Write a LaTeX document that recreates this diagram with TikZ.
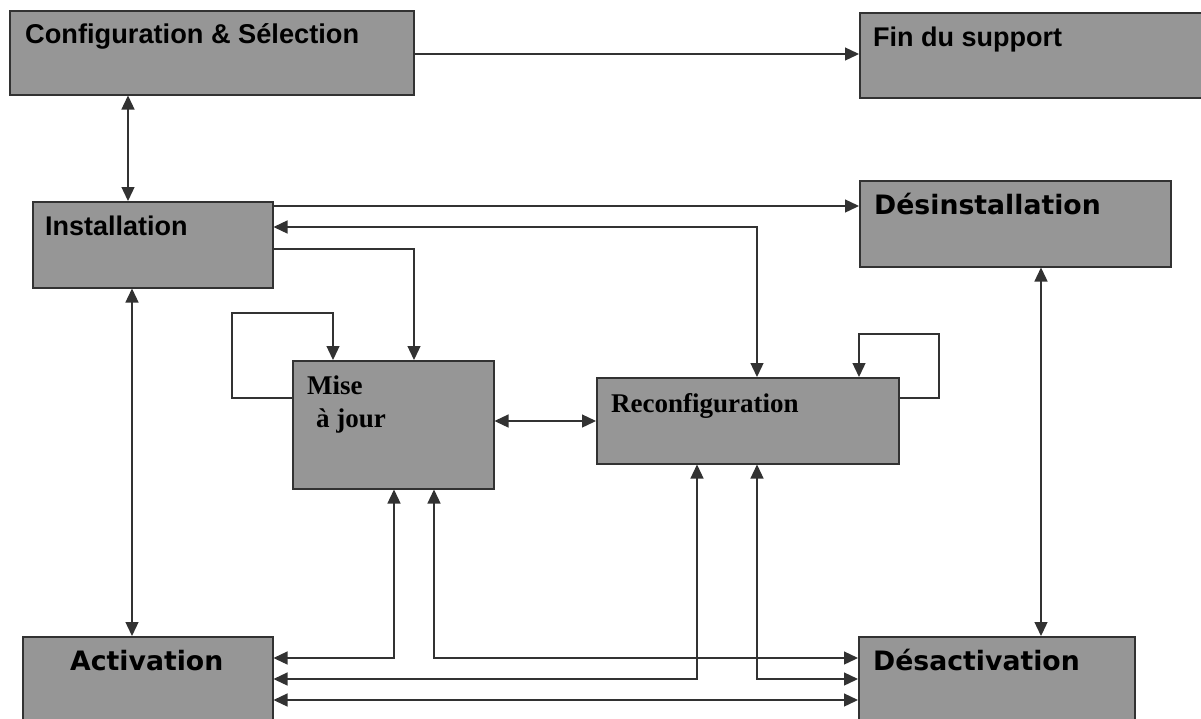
\documentclass[tikz,border=0pt]{standalone}
\usepackage{fontspec}
\usetikzlibrary{arrows.meta}
\newfontfamily\arialfont{Liberation Sans}
\newfontfamily\dejafont{DejaVu Sans}
\newfontfamily\timesfont{Liberation Serif}
\definecolor{boxgray}{RGB}{150,150,150}
\definecolor{edgegray}{RGB}{50,50,50}

\begin{document}
\begin{tikzpicture}[x=1pt,y=-1pt,
   box/.style={draw=edgegray,line width=1.5pt,fill=boxgray,inner sep=0pt,anchor=north west},
   lbl/.style={anchor=base west,inner sep=0pt,font=\fontsize{26}{30}\selectfont\bfseries},
   link/.style={draw=edgegray,line width=1.3pt},
   >={Triangle[length=14pt,width=13pt]}]
   \useasboundingbox (0,0) rectangle (1201,718);

   \node[box,minimum width=404,minimum height=84] (conf) at (9,10) {};
   \node[box,minimum width=346,minimum height=85] (fin) at (859,12) {};
   \node[box,minimum width=240,minimum height=86] (inst) at (32,201) {};
   \node[box,minimum width=311,minimum height=86] (desinst) at (859,180) {};
   \node[box,minimum width=201,minimum height=128] (maj) at (292,360) {};
   \node[box,minimum width=302,minimum height=86] (reconf) at (596,377) {};
   \node[box,minimum width=250,minimum height=104] (activ) at (22,636) {};
   \node[box,minimum width=276,minimum height=104] (desact) at (858,636) {};

   \node[lbl,font=\arialfont\fontsize{27.2}{30}\selectfont\bfseries] (conft) at (25,43) {Configuration \& Sélection};
   \node[lbl,font=\arialfont\fontsize{27}{30}\selectfont\bfseries] (fint) at (873,46) {Fin du support};
   \node[lbl,font=\arialfont\fontsize{27}{30}\selectfont\bfseries] (instt) at (45,235) {Installation};
   \node[lbl,font=\dejafont\fontsize{26.7}{30}\selectfont\bfseries] (desinstt) at (874,214) {Désinstallation};
   \node[lbl,font=\timesfont\fontsize{27}{30}\selectfont\bfseries] (majt) at (307,394) {Mise};
   \node[lbl,font=\timesfont\fontsize{27}{30}\selectfont\bfseries] (majtt) at (316,427) {à jour};
   \node[lbl,font=\timesfont\fontsize{27}{30}\selectfont\bfseries] (reconft) at (611,412) {Reconfiguration};
   \node[lbl,font=\dejafont\fontsize{26.7}{30}\selectfont\bfseries] (activt) at (70,670) {Activation};
   \node[lbl,font=\dejafont\fontsize{26.7}{30}\selectfont\bfseries] (desactt) at (873,670) {Désactivation};

   \draw[link,->] (conf.east |- 0,54) -- (fin.west |- 0,54);
   \draw[link,<->] (conf.south -| 128,0) -- (inst.north -| 128,0);
   \draw[link,->] (inst.east |- 0,206) -- (desinst.west |- 0,206);
   \draw[link,<->] (inst.east |- 0,227) -| (reconf.north -| 757,0);
   \draw[link,->] (inst.east |- 0,249) -| (maj.north -| 414,0);
   \draw[link,->] (maj.west |- 0,398) -| (232,313) -| (maj.north -| 333,0);
   \draw[link,<->] (maj.east |- 0,421) -- (reconf.west |- 0,421);
   \draw[link,->] (reconf.east |- 0,398) -| (939,334) -| (reconf.north -| 859,0);
   \draw[link,<->] (desinst.south -| 1041,0) -- (desact.north -| 1041,0);
   \draw[link,<->] (inst.south -| 132,0) -- (activ.north -| 132,0);

   \draw[link,<->] (activ.east |- 0,658) -| (maj.south -| 394,0);
   \draw[link,<->] (maj.south -| 434,0) |- (desact.west |- 0,658);
   \draw[link,<->] (activ.east |- 0,679) -| (reconf.south -| 697,0);
   \draw[link,<->] (reconf.south -| 757,0) |- (desact.west |- 0,679);
   \draw[link,<->] (activ.east |- 0,700) -- (desact.west |- 0,700);
\end{tikzpicture}
\end{document}
